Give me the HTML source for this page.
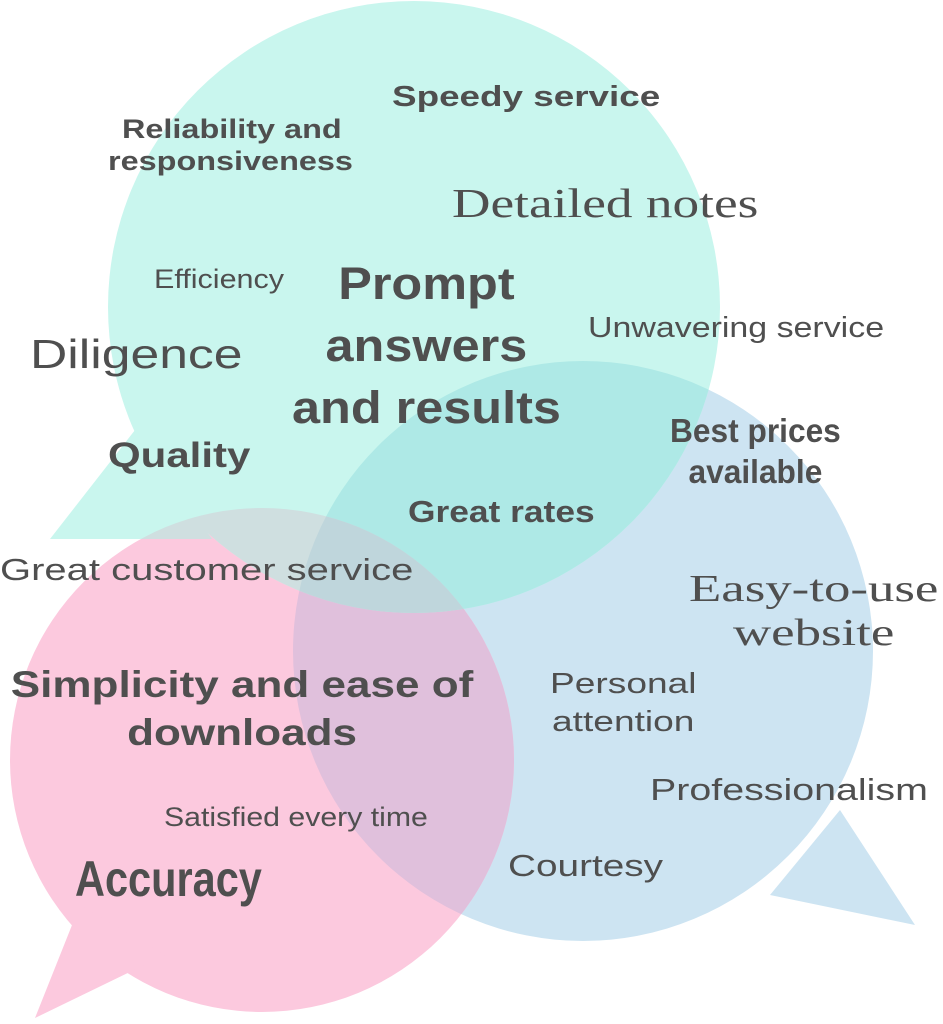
<!DOCTYPE html>
<html><head><style>
body{margin:0;background:#fff;}
.w{position:relative;width:943px;height:1024px;overflow:hidden;}
svg{position:absolute;left:0;top:0;}
.t{position:absolute;color:#4f4f4f;font-family:"Liberation Sans",sans-serif;white-space:nowrap;line-height:1;transform-origin:0 0;}
.b{font-weight:bold;}
.s{font-family:"Liberation Serif",serif;}
.c{font-family:"Liberation Sans Narrow","Liberation Sans",sans-serif;font-weight:bold;}
</style></head><body><div class="w">
<svg width="943" height="1024">
<defs>
<g id="B"><circle cx="583" cy="651" r="290"/><polygon points="840,810 915,925 770,895"/></g>
<g id="P"><circle cx="262" cy="760" r="252"/><polygon points="80,905 35,1018 165,955"/></g>
<g id="T"><circle cx="414" cy="307" r="306"/><polygon points="135,430 50,539 212,539"/></g>
<clipPath id="cB"><circle cx="583" cy="651" r="290"/><polygon points="840,810 915,925 770,895"/></clipPath>
<clipPath id="cP"><circle cx="262" cy="760" r="252"/><polygon points="80,905 35,1018 165,955"/></clipPath>
<clipPath id="cT"><circle cx="414" cy="307" r="306"/><polygon points="135,430 50,539 212,539"/></clipPath>
</defs>
<use href="#B" fill="#cde4f2"/>
<use href="#P" fill="#fcc9de"/>
<use href="#T" fill="#c9f6ee"/>
<g clip-path="url(#cB)"><use href="#P" fill="#e0c0dc"/></g>
<g clip-path="url(#cB)"><use href="#T" fill="#aee9e6"/></g>
<g clip-path="url(#cP)"><use href="#T" fill="#cfdfe0"/></g>
<g clip-path="url(#cB)"><g clip-path="url(#cP)"><use href="#T" fill="#bfd6dc"/></g></g>
</svg>
<div class="t b" style="left:392px;top:83px;font-size:29px;transform:scaleX(1.27)">Speedy service</div>
<div class="t b" style="left:122px;top:116px;font-size:27px;transform:scaleX(1.2)">Reliability and</div>
<div class="t b" style="left:108px;top:148px;font-size:27px;transform:scaleX(1.2)">responsiveness</div>
<div class="t s" style="left:452px;top:183px;font-size:41px;transform:scaleX(1.3)">Detailed notes</div>
<div class="t" style="left:154px;top:266px;font-size:27px;transform:scaleX(1.13)">Efficiency</div>
<div class="t b" style="left:292px;top:253px;font-size:45px;text-align:center;line-height:62px;width:240px;transform:scaleX(1.12)">Prompt<br>answers<br>and results</div>
<div class="t" style="left:588px;top:314px;font-size:29px;transform:scaleX(1.17)">Unwavering service</div>
<div class="t" style="left:30px;top:334px;font-size:41px;transform:scaleX(1.26)">Diligence</div>
<div class="t b" style="left:108px;top:438px;font-size:35px;transform:scaleX(1.2)">Quality</div>
<div class="t c" style="left:670px;top:410px;font-size:33px;line-height:1.25;text-align:center;transform:scaleX(0.96);">Best prices<br>available</div>
<div class="t b" style="left:408px;top:496px;font-size:31px;transform:scaleX(1.14)">Great rates</div>
<div class="t" style="left:0px;top:554px;font-size:31px;transform:scaleX(1.29)">Great customer service</div>
<div class="t s" style="left:689px;top:568px;font-size:38px;text-align:center;line-height:1.15;transform:scaleX(1.39)">Easy-to-use<br>website</div>
<div class="t b" style="left:10px;top:661px;font-size:37px;text-align:center;line-height:1.3;width:390px;transform:scaleX(1.19)">Simplicity and ease of<br>downloads</div>
<div class="t" style="left:550px;top:666px;font-size:29px;text-align:center;line-height:1.3;transform:scaleX(1.28)">Personal<br>attention</div>
<div class="t" style="left:650px;top:774px;font-size:31px;transform:scaleX(1.27)">Professionalism</div>
<div class="t" style="left:164px;top:804px;font-size:27px;transform:scaleX(1.12)">Satisfied every time</div>
<div class="t" style="left:508px;top:850px;font-size:31px;transform:scaleX(1.25)">Courtesy</div>
<div class="t c" style="left:75px;top:854px;font-size:50px;transform:scaleX(0.83);">Accuracy</div>
</div></body></html>
